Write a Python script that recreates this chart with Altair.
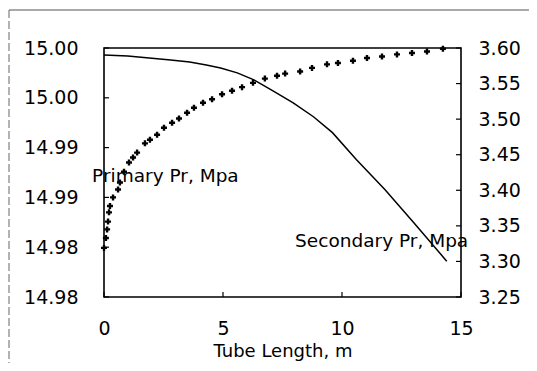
import altair as alt
import pandas as pd

# ---- data ----
x_line = [0.0, 1.0, 1.9, 2.8, 3.6, 4.3, 4.9, 5.6, 6.3, 7.1, 7.95, 8.8, 9.6, 10.6, 11.8, 13.0, 14.4]
primary = [14.9993, 14.9992, 14.9990, 14.9988, 14.9986, 14.9983, 14.9980, 14.9975, 14.9968,
           14.9957, 14.9945, 14.9931, 14.9915, 14.9888, 14.9858, 14.9825, 14.9786]

x_pts = [0.0, 0.08, 0.13, 0.17, 0.21, 0.25, 0.38, 0.59, 0.67, 0.84, 1.05, 1.22, 1.39, 1.72,
         1.93, 2.23, 2.52, 2.86, 3.15, 3.49, 3.78, 4.16, 4.54, 4.96, 5.38, 5.80, 6.26, 6.76,
         7.27, 7.61, 8.24, 8.74, 9.37, 9.83, 10.46, 11.05, 11.68, 12.31, 12.94, 13.57, 14.24]
secondary = [3.319, 3.333, 3.345, 3.356, 3.369, 3.378, 3.390, 3.401, 3.411, 3.426, 3.439,
             3.446, 3.453, 3.466, 3.471, 3.478, 3.488, 3.495, 3.501, 3.509, 3.516, 3.523,
             3.528, 3.535, 3.540, 3.545, 3.551, 3.557, 3.561, 3.564, 3.567, 3.572, 3.577,
             3.579, 3.582, 3.586, 3.588, 3.591, 3.593, 3.595, 3.599]

x_ticks = [0, 5, 10, 15]
left_ticks = [15.000, 14.995, 14.990, 14.985, 14.980, 14.975]
left_labels = ["15.00", "15.00", "14.99", "14.99", "14.98", "14.98"]
right_ticks = [3.25, 3.30, 3.35, 3.40, 3.45, 3.50, 3.55, 3.60]

ann_text = ["Primary Pr, Mpa", "Secondary Pr, Mpa"]
ann_x = [-0.5, 8.03]
ann_y = [14.98657, 14.98006]

# ---- styling ----
FONT = "DejaVu Sans"
W, H = 357, 249

df_line = pd.DataFrame({"x": x_line, "v": primary})
df_pts = pd.DataFrame({"x": x_pts, "s": secondary})
df_ann = pd.DataFrame({"x": ann_x, "v": ann_y, "t": ann_text})
df_xt = pd.DataFrame({"x": x_ticks})
df_lt = pd.DataFrame({"v": left_ticks})
df_rt = pd.DataFrame({"s": right_ticks})

label_expr = "''"
for v, lab in reversed(list(zip(left_ticks, left_labels))):
    label_expr = f"abs(datum.value - {v}) < 1e-6 ? '{lab}' : ({label_expr})"

xscale = alt.Scale(domain=[0, 15], nice=False, zero=False)
lscale = alt.Scale(domain=[14.975, 15.0], nice=False, zero=False)
rscale = alt.Scale(domain=[3.25, 3.60], nice=False, zero=False)

common = dict(ticks=False, domain=False, grid=False, labelFont=FONT, labelFontSize=19,
              labelColor="black", labelFlush=False, labelOverlap=False)
xaxis = alt.Axis(values=x_ticks, title="Tube Length, m", format="d", labelPadding=22,
                 titlePadding=4, titleFont=FONT, titleFontSize=18, titleFontWeight="normal",
                 titleColor="black", **common)
laxis = alt.Axis(values=left_ticks, labelExpr=label_expr, title="", labelPadding=26, **common)
raxis = alt.Axis(values=right_ticks, format=".2f", orient="right", title="", labelPadding=17,
                 **common)

X = alt.X("x:Q", scale=xscale, axis=xaxis)
YL = alt.Y("v:Q", scale=lscale, axis=laxis)
YR = alt.Y("s:Q", scale=rscale, axis=raxis)

line = alt.Chart(df_line).mark_line(color="black", strokeWidth=1.5).encode(x=X, y=YL)
ann = alt.Chart(df_ann).mark_text(align="left", baseline="alphabetic", font=FONT,
                                  fontSize=18.5, color="black").encode(x=X, y=YL, text="t:N")
lticks = alt.Chart(df_lt).mark_rule(color="black", strokeWidth=1.2).encode(
    y=YL, x=alt.value(0), x2=alt.value(5))
xticks = alt.Chart(df_xt).mark_rule(color="black", strokeWidth=1.2).encode(
    x=X, y=alt.value(H), y2=alt.value(H - 5))
frame_top = alt.Chart(pd.DataFrame({"a": [0]})).mark_rule(color="#555", strokeWidth=1).encode(
    x=alt.value(-95), x2=alt.value(425), y=alt.value(-38))
frame_left = alt.Chart(pd.DataFrame({"a": [0]})).mark_rule(
    color="#666", strokeWidth=1, strokeDash=[8, 3]).encode(
    x=alt.value(-95), y=alt.value(-38), y2=alt.value(315))

left_group = alt.layer(frame_top, frame_left, line, ann, lticks, xticks)

pts = alt.Chart(df_pts).mark_point(shape="cross", filled=True, size=36, color="black",
                                   opacity=1).encode(x=X, y=YR)
rticks = alt.Chart(df_rt).mark_rule(color="black", strokeWidth=1.2).encode(
    y=YR, x=alt.value(W - 5), x2=alt.value(W))
right_group = alt.layer(pts, rticks)

chart = alt.layer(left_group, right_group).resolve_scale(y="independent").properties(
    width=W, height=H,
    autosize=alt.AutoSizeParams(type="none"),
    padding={"left": 96, "top": 40, "right": 68, "bottom": 66},
    background="white",
).configure_view(stroke="black", strokeWidth=1.6)

chart.save("out.html", embed_options={"renderer": "svg", "actions": False})
